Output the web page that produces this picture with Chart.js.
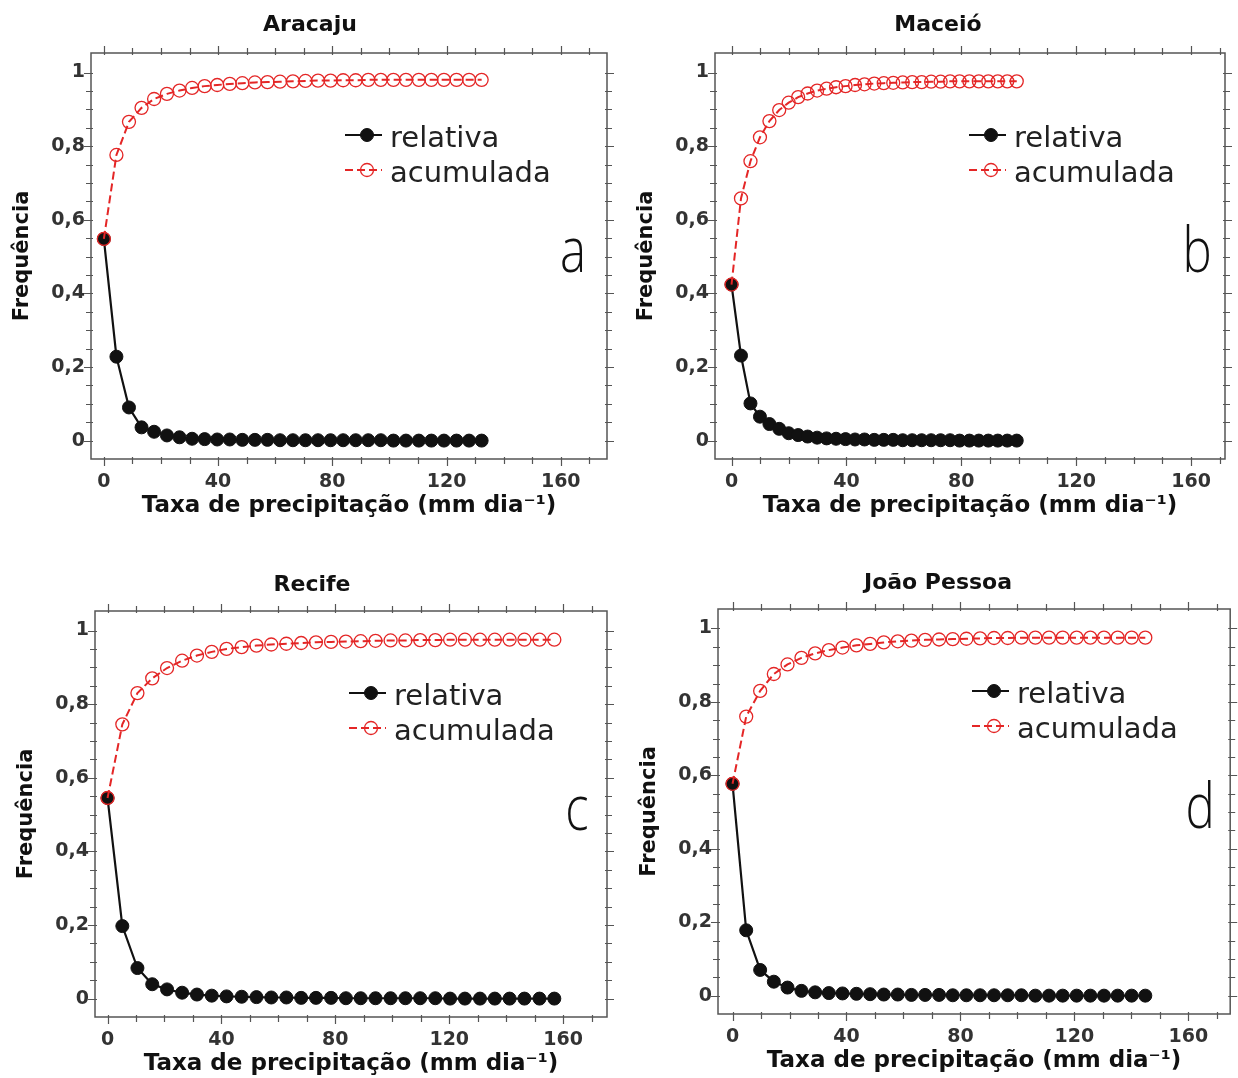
<!DOCTYPE html>
<html><head><meta charset="utf-8">
<script src="https://cdn.jsdelivr.net/npm/chart.js@4.4.1/dist/chart.umd.min.js"></script>
<style>
html,body{margin:0;padding:0;background:#fff;}
#wrap{position:relative;width:1238px;height:1078px;overflow:hidden;background:#fff;}
canvas{position:absolute;}
</style></head><body><div id="wrap">
<canvas id="p0" width="619" height="539" style="left:0;top:0"></canvas>
<canvas id="p1" width="619" height="539" style="left:619px;top:0"></canvas>
<canvas id="p2" width="619" height="539" style="left:0;top:539px"></canvas>
<canvas id="p3" width="619" height="539" style="left:619px;top:539px"></canvas>
</div>
<script>
// ---------------- data ----------------
const cityNames = ['Aracaju', 'Maceió', 'Recife', 'João Pessoa'];
const panelLetters = ['a', 'b', 'c', 'd'];
const seriesNames = ['relativa', 'acumulada'];
const xTickValues = [0, 40, 80, 120, 160];
const xTickLabels = ['0', '40', '80', '120', '160'];
const yTickValues = [0, 0.2, 0.4, 0.6, 0.8, 1];
const yTickLabels = ['0', '0,2', '0,4', '0,6', '0,8', '1'];
const xAxisTitle = 'Taxa de precipitação (mm dia⁻¹)';
const yAxisTitle = 'Frequência';

const aracajuX = [0, 4.4, 8.8, 13.2, 17.6, 22.1, 26.5, 30.9, 35.3, 39.7, 44.1, 48.5, 52.9, 57.3, 61.7, 66.2, 70.6, 75.0, 79.4, 83.8, 88.2, 92.6, 97.0, 101.4, 105.8, 110.3, 114.7, 119.1, 123.5, 127.9, 132.3];
const aracajuRel = [0.548, 0.228, 0.090, 0.036, 0.024, 0.014, 0.009, 0.005, 0.004, 0.003, 0.003, 0.002, 0.002, 0.002, 0.001, 0.001, 0.001, 0.001, 0.001, 0.001, 0.001, 0.001, 0.001, 0, 0, 0, 0, 0, 0, 0, 0];
const aracajuAcc = [0.548, 0.776, 0.866, 0.904, 0.928, 0.942, 0.951, 0.958, 0.963, 0.966, 0.969, 0.971, 0.973, 0.974, 0.975, 0.976, 0.977, 0.978, 0.978, 0.979, 0.979, 0.980, 0.980, 0.980, 0.980, 0.980, 0.980, 0.980, 0.980, 0.980, 0.980];

const maceioX = [0, 3.3, 6.6, 9.9, 13.2, 16.6, 19.9, 23.2, 26.5, 29.8, 33.1, 36.4, 39.7, 43.0, 46.3, 49.7, 53.0, 56.3, 59.6, 62.9, 66.2, 69.5, 72.8, 76.1, 79.4, 82.8, 86.1, 89.4, 92.7, 96.0, 99.3];
const maceioRel = [0.424, 0.231, 0.101, 0.065, 0.045, 0.032, 0.020, 0.015, 0.011, 0.008, 0.006, 0.005, 0.004, 0.003, 0.003, 0.002, 0.002, 0.002, 0.001, 0.001, 0.001, 0.001, 0.001, 0.001, 0, 0, 0, 0, 0, 0, 0];
const maceioAcc = [0.424, 0.658, 0.759, 0.824, 0.868, 0.898, 0.918, 0.933, 0.943, 0.951, 0.956, 0.960, 0.963, 0.966, 0.968, 0.970, 0.971, 0.972, 0.973, 0.974, 0.974, 0.975, 0.975, 0.976, 0.976, 0.976, 0.976, 0.976, 0.976, 0.976, 0.976];

const recifeX = [0, 5.2, 10.5, 15.7, 20.9, 26.2, 31.4, 36.6, 41.8, 47.1, 52.3, 57.5, 62.8, 68.0, 73.2, 78.5, 83.7, 88.9, 94.1, 99.4, 104.6, 109.8, 115.1, 120.3, 125.5, 130.8, 136.0, 141.2, 146.4, 151.7, 156.9];
const recifeRel = [0.545, 0.197, 0.083, 0.039, 0.025, 0.016, 0.011, 0.008, 0.006, 0.005, 0.004, 0.003, 0.003, 0.002, 0.002, 0.002, 0.001, 0.001, 0.001, 0.001, 0.001, 0.001, 0.001, 0, 0, 0, 0, 0, 0, 0, 0];
const recifeAcc = [0.545, 0.745, 0.830, 0.870, 0.898, 0.918, 0.932, 0.942, 0.950, 0.955, 0.959, 0.962, 0.964, 0.966, 0.968, 0.969, 0.970, 0.971, 0.972, 0.973, 0.973, 0.974, 0.974, 0.975, 0.975, 0.975, 0.975, 0.975, 0.975, 0.975, 0.975];

const joaoPessoaX = [0, 4.8, 9.7, 14.5, 19.3, 24.2, 29.0, 33.8, 38.6, 43.5, 48.3, 53.1, 58.0, 62.8, 67.6, 72.5, 77.3, 82.1, 86.9, 91.8, 96.6, 101.4, 106.3, 111.1, 115.9, 120.8, 125.6, 130.4, 135.2, 140.1, 144.9];
const joaoPessoaRel = [0.577, 0.178, 0.070, 0.038, 0.022, 0.013, 0.009, 0.007, 0.006, 0.005, 0.004, 0.003, 0.003, 0.002, 0.002, 0.002, 0.001, 0.001, 0.001, 0.001, 0.001, 0.001, 0, 0, 0, 0, 0, 0, 0, 0, 0];
const joaoPessoaAcc = [0.577, 0.760, 0.830, 0.876, 0.902, 0.920, 0.932, 0.941, 0.948, 0.954, 0.958, 0.962, 0.965, 0.967, 0.969, 0.970, 0.971, 0.972, 0.973, 0.974, 0.974, 0.975, 0.975, 0.975, 0.975, 0.975, 0.975, 0.975, 0.975, 0.975, 0.975];

const panelX = [aracajuX, maceioX, recifeX, joaoPessoaX];
const panelRel = [aracajuRel, maceioRel, recifeRel, joaoPessoaRel];
const panelAcc = [aracajuAcc, maceioAcc, recifeAcc, joaoPessoaAcc];

// ---------------- layout (pixels inside each 619x539 canvas) ----------------
const W = 619, H = 539;
const geom = [
  {L: 91, T: 53, R: 607, B: 459, tcx: 310, tcy: 25, xmin: -4.5, xmax: 176.2},
  {L: 96, T: 53, R: 606, B: 459, tcx: 319, tcy: 25, xmin: -5.75, xmax: 171.8},
  {L: 95, T: 72, R: 607, B: 478, tcx: 312, tcy: 46, xmin: -4.4, xmax: 175.4},
  {L: 99, T: 70, R: 614, B: 475, tcx: 319, tcy: 44, xmin: -5.1, xmax: 174.7}
];
const YMIN = -0.05, YMAX = 1.053;
const FONT = '"DejaVu Sans", "Open Sans", sans-serif';
const LETTER_FONT = '"Open Sans", "DejaVu Sans", sans-serif';
const RED = '#e42626';
const BLACK = '#111111';

const decorPlugin = {
  id: 'panelDecor',
  afterDraw(chart, args, opts) {
    const ctx = chart.ctx, a = chart.chartArea, xs = chart.scales.x, ys = chart.scales.y;
    ctx.save();
    // frame
    ctx.strokeStyle = '#555';
    ctx.lineWidth = 1.5;
    ctx.strokeRect(a.left, a.top, a.right - a.left, a.bottom - a.top);
    // tick marks on all four sides
    ctx.lineWidth = 1.2;
    ctx.beginPath();
    for (let v = 0; v <= xs.max; v += 10) {
      const px = Math.round(xs.getPixelForValue(v)) + 0.5;
      const len = (v % 40 === 0) ? 7 : 5;
      ctx.moveTo(px, a.bottom - 2); ctx.lineTo(px, a.bottom + len);
      ctx.moveTo(px, a.top + 2); ctx.lineTo(px, a.top - len);
    }
    for (let k = 0; k <= 20; k++) {
      const v = k * 0.05;
      const py = Math.round(ys.getPixelForValue(v)) + 0.5;
      const len = (k % 4 === 0) ? 7 : 5;
      ctx.moveTo(a.left + 2, py); ctx.lineTo(a.left - len, py);
      ctx.moveTo(a.right - 2, py); ctx.lineTo(a.right + len, py);
    }
    ctx.stroke();

    // legend
    const lx = a.left + 254, ly = a.top + 82;
    chart.data.datasets.forEach((ds, i) => {
      const yy = ly + i * 35;
      ctx.save();
      ctx.strokeStyle = ds.borderColor;
      ctx.lineWidth = ds.borderWidth;
      ctx.setLineDash(ds.borderDash || []);
      ctx.beginPath(); ctx.moveTo(lx, yy); ctx.lineTo(lx + 37, yy); ctx.stroke();
      ctx.setLineDash([]);
      ctx.beginPath(); ctx.arc(lx + 22, yy, ds.pointRadius, 0, Math.PI * 2);
      ctx.fillStyle = ds.pointBackgroundColor; ctx.fill();
      ctx.lineWidth = ds.pointBorderWidth; ctx.strokeStyle = ds.pointBorderColor; ctx.stroke();
      ctx.fillStyle = '#222';
      ctx.font = '29px ' + FONT;
      ctx.textAlign = 'left'; ctx.textBaseline = 'alphabetic';
      ctx.fillText(ds.label, lx + 45, yy + 12);
      ctx.restore();
    });

    // panel letter
    ctx.save();
    ctx.translate(a.left + 482, a.top + 219);
    ctx.scale(0.78, 1);
    ctx.fillStyle = '#111';
    ctx.font = '300 63px ' + LETTER_FONT;
    ctx.textAlign = 'center'; ctx.textBaseline = 'alphabetic';
    ctx.fillText(opts.letter, 0, 0);
    ctx.restore();
    ctx.restore();
  }
};

function makeChart(i) {
  const g = geom[i];
  const padL = 2 * g.tcx - g.R;
  const titleFont = {family: FONT, weight: 'bold', size: 22};
  const titleLH = 22 * 1.2;
  const tPadTop = g.tcy - titleLH / 2;
  const xTitleLH = 23 * 1.2;
  const yTitleLH = 21 * 1.2;
  const relData = panelX[i].map((x, k) => ({x: x, y: panelRel[i][k]}));
  const accData = panelX[i].map((x, k) => ({x: x, y: panelAcc[i][k]}));
  return new Chart(document.getElementById('p' + i), {
    type: 'line',
    data: {
      datasets: [
        {label: seriesNames[0], data: relData, borderColor: BLACK, borderWidth: 2.2,
         pointRadius: 6.5, pointBackgroundColor: BLACK, pointBorderColor: BLACK, pointBorderWidth: 1,
         tension: 0, order: 1},
        {label: seriesNames[1], data: accData, borderColor: RED, borderWidth: 2, borderDash: [8, 4],
         pointRadius: 6.5, pointBackgroundColor: 'rgba(255,255,255,0)', pointBorderColor: RED, pointBorderWidth: 1.3,
         tension: 0, order: 0}
      ]
    },
    options: {
      responsive: false, animation: false, devicePixelRatio: 1,
      layout: {padding: {left: padL, right: W - g.R, top: 0, bottom: 0}},
      plugins: {
        legend: {display: false}, tooltip: {enabled: false},
        title: {display: true, text: cityNames[i], color: '#111', font: titleFont,
                padding: {top: tPadTop, bottom: g.T - tPadTop - titleLH}},
        panelDecor: {letter: panelLetters[i]}
      },
      scales: {
        x: {
          type: 'linear', min: g.xmin, max: g.xmax,
          afterBuildTicks: s => { s.ticks = xTickValues.map(v => ({value: v})); },
          afterFit: s => { s.height = H - g.B; },
          grid: {display: false, drawTicks: false}, border: {display: false},
          ticks: {autoSkip: false, maxRotation: 0, padding: 12, color: '#333',
                  font: {family: FONT, weight: 'bold', size: 19},
                  callback: (v, idx) => xTickLabels[xTickValues.indexOf(v)]},
          title: {display: true, text: xAxisTitle, color: '#111',
                  font: {family: FONT, weight: 'bold', size: 23},
                  padding: {top: 0, bottom: H - xTitleLH / 2 - (g.B + 47)}}
        },
        y: {
          type: 'linear', min: YMIN, max: YMAX,
          afterBuildTicks: s => { s.ticks = yTickValues.map(v => ({value: v})); },
          afterFit: s => { s.width = g.L - padL; },
          grid: {display: false, drawTicks: false}, border: {display: false},
          ticks: {autoSkip: false, padding: 6, color: '#333',
                  font: {family: FONT, weight: 'bold', size: 19},
                  callback: (v) => yTickLabels[yTickValues.indexOf(v)]},
          title: {display: true, text: yAxisTitle, color: '#111',
                  font: {family: FONT, weight: 'bold', size: 21},
                  padding: {top: (g.L - 68) - padL - yTitleLH / 2, bottom: 0}}
        }
      }
    },
    plugins: [decorPlugin]
  });
}
for (let i = 0; i < 4; i++) makeChart(i);
</script>
</body></html>
